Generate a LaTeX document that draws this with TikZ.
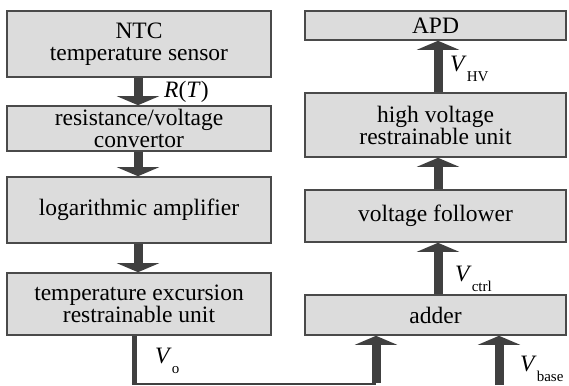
\documentclass[tikz,border=0pt]{standalone}
\usepackage{fontspec}
\setmainfont{Liberation Serif}
\newfontfamily\tmsfont{Liberation Serif}
\usetikzlibrary{arrows.meta}
\definecolor{boxfill}{HTML}{DCDCDC}
\definecolor{boxline}{HTML}{4A4A4A}
\definecolor{arrowgray}{HTML}{404040}
\tikzset{
  blockbox/.style={draw=boxline, line width=1.6pt, fill=boxfill, align=center,
    inner sep=0pt, font=\tmsfont\fontsize{23.5}{22}\selectfont},
  leftbox/.style={blockbox, minimum width=264pt},
  rightbox/.style={blockbox, minimum width=261pt},
  bigarrow/.style={draw=arrowgray, line width=9pt, -{Triangle[width=42pt,length=9pt]}, color=arrowgray},
  lbl/.style={inner sep=0pt, font=\tmsfont\fontsize{23.5}{22}\selectfont},
}
\newcommand{\subtxt}[1]{\raisebox{-10pt}{\tmsfont\fontsize{15}{15}\selectfont #1}}
\begin{document}
\begin{tikzpicture}[x=1pt,y=-1pt]
\useasboundingbox (0,0) rectangle (569,385);
% left column
\node[leftbox, minimum height=66pt] (ntc) at (139,44) {NTC\\temperature sensor};
\node[leftbox, minimum height=45pt] (rv) at (139,128.5) {resistance/voltage\\convertor};
\node[leftbox, minimum height=66pt] (log) at (139,210) {logarithmic amplifier};
\node[leftbox, minimum height=62pt] (tex) at (139,304) {temperature excursion\\restrainable unit};
% right column
\node[rightbox, minimum height=29pt] (apd) at (435.5,25.5) {APD};
\node[rightbox, minimum height=64pt] (hv) at (435.5,125) {high voltage\\restrainable unit};
\node[rightbox, minimum height=52pt] (vf) at (435.5,216) {voltage follower};
\node[rightbox, minimum height=40pt] (add) at (435.5,315) {adder};
% coordinates
\coordinate (ax) at (138,0);
\coordinate (bx) at (438,0);
\coordinate (c1) at (134,383.5);
\coordinate (c2) at (376,383.5);
\coordinate (vb) at (499,385);
% left arrows
\draw[bigarrow] (ntc.south -| ax) -- (rv.north -| ax);
\draw[bigarrow] (rv.south -| ax) -- (log.north -| ax);
\draw[bigarrow] (log.south -| ax) -- (tex.north -| ax);
% right arrows
\draw[bigarrow] (add.north -| bx) -- (vf.south -| bx);
\draw[bigarrow] (vf.north -| bx) -- (hv.south -| bx);
\draw[bigarrow] (hv.north -| bx) -- (apd.south -| bx);
% Vo path
\draw[arrowgray, line width=5pt] (tex.south -| c1) -- ([yshift=-1pt]c1);
\draw[arrowgray, line width=2pt] ([xshift=-2.5pt]c1) -- (c2);
\draw[bigarrow] ([yshift=1pt]c2) -- (add.south -| c2);
\draw[bigarrow] (vb) -- (add.south -| vb);
% labels
\node[lbl, anchor=west] (lrt) at (164,92) {\textit{R}(\textit{T})};
\node[lbl, anchor=base west] (lhv) at (450,72) {\textit{V}\subtxt{HV}};
\node[lbl, anchor=base west] (lct) at (455,281) {\textit{V}\subtxt{ctrl}};
\node[lbl, anchor=base west] (lvo) at (155,363) {\textit{V}\subtxt{o}};
\node[lbl, anchor=base west] (lvb) at (520,371) {\textit{V}\subtxt{base}};
\end{tikzpicture}
\end{document}
